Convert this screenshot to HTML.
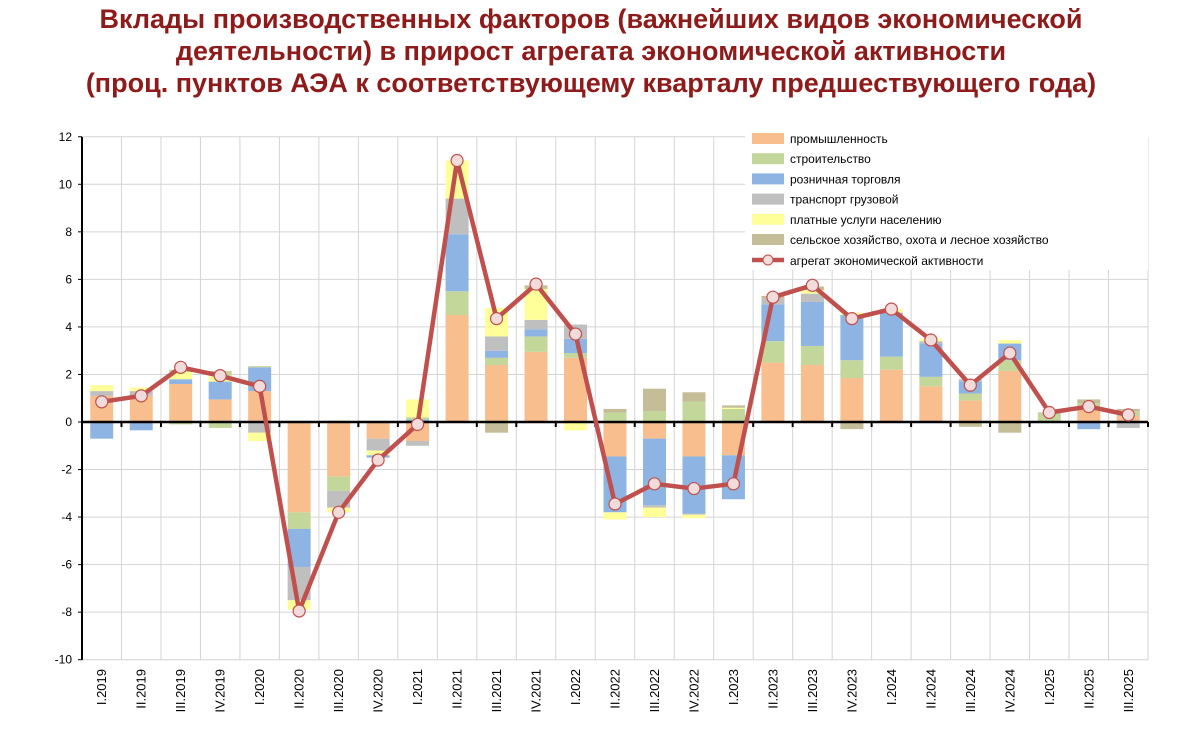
<!DOCTYPE html><html><head><meta charset="utf-8"><style>
body{margin:0;background:#fff;width:1182px;height:734px;overflow:hidden;font-family:"Liberation Sans",sans-serif}
.t{position:absolute;left:0;width:1182px;text-align:center;color:#8E1A1A;font-weight:bold;font-size:27px;line-height:32px;top:3px}
</style></head><body>
<div class="t">Вклады производственных факторов (важнейших видов экономической<br>деятельности) в прирост агрегата экономической активности<br>(проц. пунктов АЭА к соответствующему кварталу предшествующего года)</div>
<svg id="s" width="1182" height="734" style="position:absolute;left:0;top:0"></svg>
<script>
const C={p:'#F9BE8E',g:'#C4D79B',b:'#8DB4E2',t:'#BFBFBF',y:'#FFFF99',s:'#C4BD97'};
const D=[
[[['p',1.1],['t',1.3],['y',1.55]],[['b',-0.7]],0.85,'I.2019'],
[[['p',1.1],['t',1.3],['y',1.45]],[['b',-0.35]],1.1,'II.2019'],
[[['p',1.6],['b',1.8],['y',2.1],['g',2.2]],[['g',-0.1]],2.3,'III.2019'],
[[['p',0.95],['b',1.7],['y',1.95],['g',2.15]],[['g',-0.25]],1.95,'IV.2019'],
[[['p',1.3],['b',2.3],['g',2.35]],[['t',-0.45],['y',-0.8]],1.5,'I.2020'],
[[],[['p',-3.8],['g',-4.5],['b',-6.1],['t',-7.5],['y',-7.9]],-7.95,'II.2020'],
[[['s',0.05]],[['p',-2.3],['g',-2.9],['t',-3.6],['y',-3.8]],-3.8,'III.2020'],
[[],[['p',-0.7],['t',-1.2],['y',-1.4],['b',-1.5]],-1.6,'IV.2020'],
[[['b',0.1],['g',0.2],['y',0.95]],[['p',-0.8],['t',-1.0]],-0.1,'I.2021'],
[[['p',4.5],['g',5.5],['b',7.9],['t',9.4],['y',11.0]],[],11.0,'II.2021'],
[[['p',2.4],['g',2.7],['b',3.0],['t',3.6],['y',4.8]],[['s',-0.45]],4.35,'III.2021'],
[[['p',2.95],['g',3.6],['b',3.9],['t',4.3],['y',5.6],['s',5.75]],[],5.8,'IV.2021'],
[[['p',2.7],['g',2.9],['b',3.5],['t',4.1]],[['y',-0.35]],3.7,'I.2022'],
[[['g',0.4],['s',0.55]],[['p',-1.45],['b',-3.8],['y',-4.1]],-3.45,'II.2022'],
[[['g',0.45],['s',1.4]],[['p',-0.7],['b',-3.5],['t',-3.6],['y',-4.0]],-2.6,'III.2022'],
[[['g',0.85],['s',1.25]],[['p',-1.45],['b',-3.85],['t',-3.9],['y',-4.05]],-2.8,'IV.2022'],
[[['g',0.55],['y',0.6],['s',0.7]],[['p',-1.4],['b',-3.25]],-2.6,'I.2023'],
[[['p',2.5],['g',3.4],['b',4.95],['t',5.2],['s',5.3]],[],5.25,'II.2023'],
[[['p',2.4],['g',3.2],['b',5.05],['t',5.4],['y',5.55],['s',5.7]],[],5.75,'III.2023'],
[[['p',1.85],['g',2.6],['b',4.5],['y',4.6]],[['s',-0.3]],4.35,'IV.2023'],
[[['p',2.2],['g',2.75],['b',4.6],['y',4.75]],[],4.75,'I.2024'],
[[['p',1.5],['g',1.9],['b',3.3],['t',3.4],['y',3.5]],[],3.45,'II.2024'],
[[['p',0.9],['g',1.2],['b',1.7],['t',1.8]],[['s',-0.2]],1.55,'III.2024'],
[[['p',2.15],['g',2.6],['b',3.3],['y',3.45]],[['s',-0.45]],2.9,'IV.2024'],
[[['g',0.35],['s',0.4]],[],0.4,'I.2025'],
[[['p',0.55],['g',0.8],['s',0.95]],[['b',-0.3]],0.65,'II.2025'],
[[['p',0.25],['g',0.45],['s',0.55]],[['t',-0.25]],0.3,'III.2025']];
const X0=82,X1=1148,W=(X1-X0)/27,Y=v=>422-v*23.77;
let h='';
for(let i=0;i<=27;i++){const x=X0+i*W;h+=`<line x1="${x}" y1="137" x2="${x}" y2="660" stroke="#d4d4d4"/>`;}
for(let v=-10;v<=12;v+=2){h+=`<line x1="${X0}" y1="${Y(v)}" x2="${X1}" y2="${Y(v)}" stroke="#d4d4d4"/><text x="72" y="${Y(v)+4}" font-size="12">${v}</text><line x1="${X0-4}" y1="${Y(v)}" x2="${X0}" y2="${Y(v)}" stroke="#000"/>`.replace('font-size="12">','font-size="12" text-anchor="end">');}
h+=`<rect x="745" y="128" width="403" height="142" fill="#fff"/>`;
let pts=[];
D.forEach((d,i)=>{const cx=X0+(i+.5)*W,bw=23;let prev=0;
d[0].forEach(([k,v])=>{h+=`<rect x="${cx-bw/2}" y="${Y(v)}" width="${bw}" height="${Y(prev)-Y(v)}" fill="${C[k]}"/>`;prev=v;});
prev=0;d[1].forEach(([k,v])=>{h+=`<rect x="${cx-bw/2}" y="${Y(prev)}" width="${bw}" height="${Y(v)-Y(prev)}" fill="${C[k]}"/>`;prev=v;});
pts.push([cx,Y(d[2])]);
h+=`<text transform="translate(${cx+4.5},669) rotate(-90)" font-size="13" text-anchor="end">${d[3]}</text>`;
h+=`<line x1="${X0+(i+1)*W}" y1="422" x2="${X0+(i+1)*W}" y2="427" stroke="#000" stroke-width="2"/>`;});
h+=`<line x1="${X0}" y1="137" x2="${X0}" y2="660" stroke="#000" stroke-width="2"/><line x1="${X0}" y1="422" x2="${X1}" y2="422" stroke="#000" stroke-width="2.5"/>`;
h+=`<polyline points="${pts.map(p=>p.join(',')).join(' ')}" fill="none" stroke="#C0504D" stroke-width="4.5" stroke-linejoin="round"/>`;
pts.forEach(p=>h+=`<circle cx="${p[0]}" cy="${p[1]}" r="6" fill="#F2DCDB" stroke="#C0504D" stroke-width="1.2"/>`);
const L=[['p','промышленность'],['g','строительство'],['b','розничная торговля'],['t','транспорт грузовой'],['y','платные услуги населению'],['s','сельское хозяйство, охота и лесное хозяйство']];
L.forEach(([k,n],i)=>{const y=139+i*20.2;h+=`<rect x="752" y="${y-6}" width="32" height="11" fill="${C[k]}"/><text x="790" y="${y+4}" font-size="12">${n}</text>`;});
h+=`<line x1="752" y1="260" x2="784" y2="260" stroke="#C0504D" stroke-width="4.5"/><circle cx="768" cy="260" r="5" fill="#F2DCDB" stroke="#C0504D"/><text x="790" y="265" font-size="12">агрегат экономической активности</text>`;
document.getElementById('s').innerHTML=h;
</script></body></html>
